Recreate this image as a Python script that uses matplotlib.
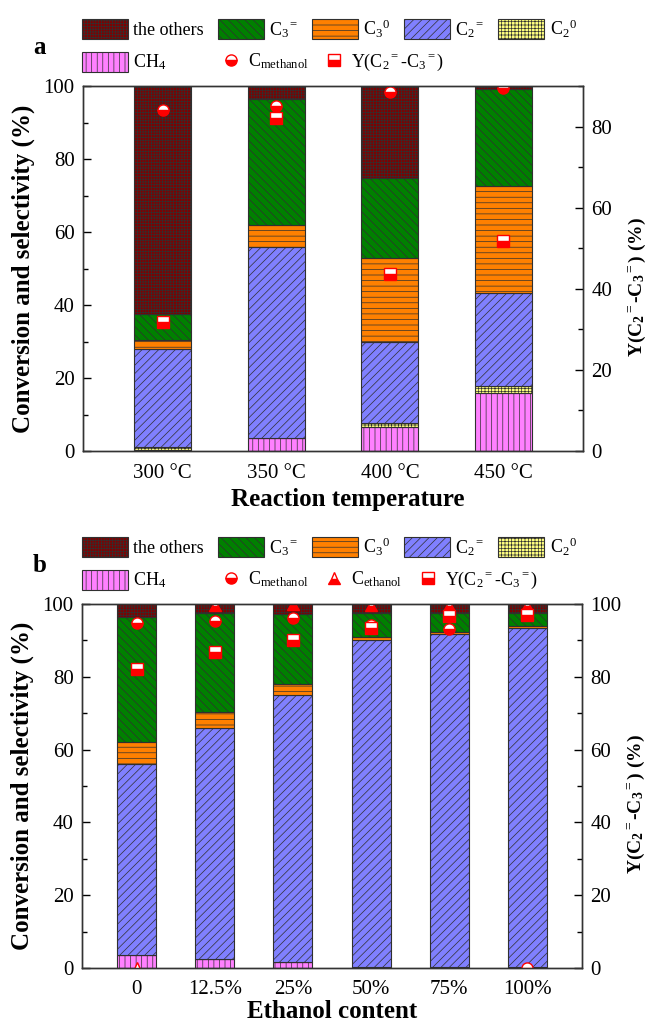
import numpy as np
import matplotlib
matplotlib.use('Agg')
import matplotlib.pyplot as plt
from matplotlib.ticker import MultipleLocator

plt.rcParams['font.family'] = ['Liberation Serif', 'DejaVu Serif']
plt.rcParams['mathtext.fontset'] = 'custom'
plt.rcParams['mathtext.rm'] = 'Liberation Serif'
plt.rcParams['mathtext.it'] = 'Liberation Serif:italic'
plt.rcParams['mathtext.bf'] = 'Liberation Serif:bold'
plt.rcParams['hatch.linewidth'] = 0.5

'''Panel a data: reaction temperature'''
temps = ['300 °C', '350 °C', '400 °C', '450 °C']
a_ch4 = [0.2, 3.5, 6.7, 15.8]
a_c2_0 = [0.8, 0.0, 1.1, 2.0]
a_c2_ene = [26.9, 52.3, 22.1, 25.6]
a_c3_0 = [2.5, 6.1, 22.9, 29.3]
a_c3_ene = [7.2, 34.5, 22.1, 26.5]
a_others = [62.4, 3.6, 25.1, 0.8]
a_conv_meoh = [93.4, 94.5, 98.4, 99.4]
a_yield = [31.9, 82.0, 43.7, 51.7]

'''Panel b data: ethanol content'''
ethanol = ['0', '12.5%', '25%', '50%', '75%', '100%']
b_ch4 = [3.5, 2.6, 1.7, 0.4, 0.3, 0.2]
b_c2_0 = [0.0, 0.0, 0.0, 0.0, 0.0, 0.0]
b_c2_ene = [52.5, 63.2, 73.2, 89.6, 91.4, 93.2]
b_c3_0 = [6.0, 4.6, 3.1, 0.9, 0.6, 0.6]
b_c3_ene = [34.5, 27.0, 19.2, 6.7, 5.3, 3.6]
b_others = [3.5, 2.6, 2.8, 2.4, 2.4, 2.4]
b_conv_meoh = [94.7, 95.4, 96.2, 94.2, 93.0, 0.0]
b_conv_etoh = [0.0, 99.7, 99.9, 99.8, 99.8, 99.8]
b_yield = [82.1, 86.7, 90.1, 93.3, 96.7, 97.0]

names = ['CH$_4$', 'C$_2$$^0$', 'C$_2$$^=$', 'C$_3$$^0$', 'C$_3$$^=$', 'the others']
colors = ['#FF80FF', '#FFFF80', '#8080FF', '#FF8000', '#008000', '#800000']
hatches = ['|||', '+++++', '////', '---', '\\\\\\\\', '++++++']

W, H = 651, 1023
fig = plt.figure(figsize=(W / 100, H / 100), dpi=100)


def half_marker(marker):
    return dict(marker=marker, linestyle='none', markersize=8, fillstyle='bottom',
                markerfacecolor='red', markerfacecoloralt='white',
                markeredgecolor='red', markeredgewidth=1.0)


def draw_panel(rect, cats, parts, convs, yld, rmax, xlabel, letter, top_px, xpad, xlab_x):
    ax = fig.add_axes(rect)
    x = np.arange(1, len(cats) + 1)
    bottom = np.zeros(len(cats))
    bars = []
    for vals, name, col, hat in zip(parts, names, colors, hatches):
        b = ax.bar(x, vals, 0.5, bottom=bottom, color=col, edgecolor='#303030',
                   linewidth=0.8, hatch=hat, label=name)
        bars.append(b)
        bottom += np.array(vals)

    mk = []
    for conv, m, lab in convs:
        ln, = ax.plot(x, conv, zorder=5, **half_marker(m))
        mk.append((ln, lab))

    ax2 = ax.twinx()
    yl, = ax2.plot(x, yld, zorder=5, **half_marker('s'))
    mk.append((yl, 'Y(C$_2$$^=$-C$_3$$^=$)'))

    ax.set_xlim(0.3, len(cats) + 0.7)
    ax.set_ylim(0, 100)
    ax2.set_ylim(0, rmax)
    ax.set_xticks(x)
    ax.set_xticklabels(cats)
    ax.yaxis.set_major_locator(MultipleLocator(20))
    ax.yaxis.set_minor_locator(MultipleLocator(10))
    ax2.yaxis.set_major_locator(MultipleLocator(20))
    ax2.yaxis.set_minor_locator(MultipleLocator(10))
    for a in (ax, ax2):
        a.tick_params(axis='y', which='major', direction='in', length=6, width=1, labelsize=15, pad=6)
        a.tick_params(axis='y', which='minor', direction='in', length=3.5, width=1)
        a.tick_params(axis='x', length=0, labelsize=15, pad=9)
        for s in a.spines.values():
            s.set_linewidth(1.0)
            s.set_color('#333333')

    ax.set_xlabel(xlabel, fontsize=18, fontweight='bold', labelpad=xpad)
    ax.xaxis.label.set_x(xlab_x)
    ax.set_ylabel('Conversion and selectivity (%)', fontsize=18, fontweight='bold', labelpad=6)
    ax2.set_ylabel(r'Y(C$_\mathbf{2}$$^\mathbf{=}$-C$_\mathbf{3}$$^\mathbf{=}$) (%)',
                   fontsize=14, fontweight='bold')
    ax2.yaxis.set_label_coords(1.088, 0.45)

    # legend row 1
    order = [5, 4, 3, 2, 1]
    fig.legend([bars[i] for i in order], [names[i] for i in order], ncol=5,
               loc='center left', bbox_to_anchor=(82 / W, 1 - (top_px - 57) / H),
               frameon=False, fontsize=13, handlelength=2.55, handleheight=1.35,
               handletextpad=0.3, columnspacing=0.75, borderpad=0, borderaxespad=0)
    # legend row 2: CH4 patch
    fig.legend([bars[0]], [names[0]], loc='center left',
               bbox_to_anchor=(82 / W, 1 - (top_px - 24) / H), frameon=False, fontsize=13,
               handlelength=2.55, handleheight=1.35, handletextpad=0.3, borderpad=0, borderaxespad=0)
    # legend row 2: markers
    fig.legend([h for h, _ in mk], [l for _, l in mk], ncol=len(mk), loc='center left',
               bbox_to_anchor=(222 / W, 1 - (top_px - 24) / H), frameon=False, fontsize=13,
               handlelength=1.0, handletextpad=0.45, columnspacing=0.9,
               borderpad=0, borderaxespad=0, numpoints=1)

    fig.text(33 / W, 1 - (top_px - 38) / H, letter, fontsize=18, fontweight='bold',
             va='center', ha='left')
    return ax, ax2


draw_panel([83 / W, 1 - 451 / H, 500 / W, 365 / H], temps,
           [a_ch4, a_c2_0, a_c2_ene, a_c3_0, a_c3_ene, a_others],
           [(a_conv_meoh, 'o', 'C$_{\\mathrm{methanol}}$')],
           a_yield, 90, 'Reaction temperature', 'a', 86, 4, 0.53)

draw_panel([82 / W, 1 - 968 / H, 500 / W, 364 / H], ethanol,
           [b_ch4, b_c2_0, b_c2_ene, b_c3_0, b_c3_ene, b_others],
           [(b_conv_meoh, 'o', 'C$_{\\mathrm{methanol}}$'),
            (b_conv_etoh, '^', 'C$_{\\mathrm{ethanol}}$')],
           b_yield, 100, 'Ethanol content', 'b', 604, 0, 0.5)

fig.savefig('out.png', dpi=100)
